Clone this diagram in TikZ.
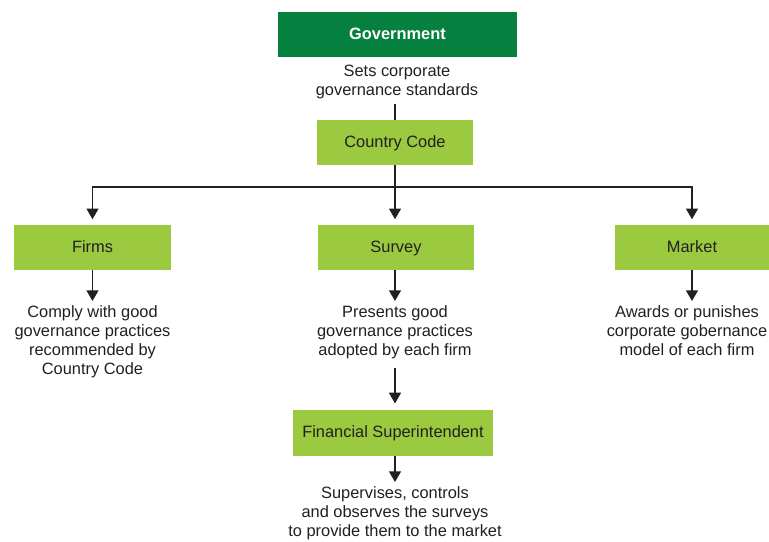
\documentclass[tikz,border=0pt]{standalone}
\usepackage{fontspec}
\setmainfont{Liberation Sans}
\usetikzlibrary{arrows.meta}
\definecolor{govgreen}{HTML}{05803F}
\definecolor{codegreen}{HTML}{9BC93F}
\definecolor{ink}{HTML}{231F20}

\begin{document}
\begin{tikzpicture}[
        x=0.75pt, y=-0.75pt,
        every node/.style={color=ink, font=\fontsize{12.3}{14.2}\selectfont},
        head box/.style={fill=govgreen, text=white, font=\bfseries\fontsize{12.3}{14.2}\selectfont,
            minimum width=179pt, minimum height=34pt, text depth=0.3ex},
        code box/.style={fill=codegreen, minimum height=34pt, text depth=0.3ex},
        note/.style={align=center, anchor=north, inner xsep=0pt, inner ysep=3.5pt},
        plain line/.style={line width=1pt, draw=ink},
        pile/.style={line width=1pt, draw=ink, -{Triangle[width=9pt, length=8pt]}, shorten >=4pt}]

    \useasboundingbox (0,0) rectangle (769,542);

    % top
    \node[head box] (gov) at (397.5,34.5) {Government};
    \node[note] (sets) at (397,60.5) {Sets corporate\\governance standards};
    \node[code box, minimum width=117pt] (code) at (395,142.5) {Country Code};
    \draw[plain line] (code.north |- sets.south) -- (code);

    % branches
    \coordinate (split) at (395,187);
    \node[code box, minimum width=118pt] (firms) at (92.5,247.5) {Firms};
    \node[code box, minimum width=117pt] (survey) at (396,247.5) {Survey};
    \node[code box, minimum width=115pt] (market) at (692,247.5) {Market};
    \draw[plain line] (code) -- (split);
    \draw[pile] (split) -| (firms);
    \draw[pile] (split) -- (split |- survey.north);
    \draw[pile] (split) -| (market);

    % what each one does
    \node[note] (comply) at (92.5,301) {Comply with good\\governance practices\\recommended by\\Country Code};
    \node[note] (presents) at (395,301) {Presents good\\governance practices\\adopted by each firm};
    \node[note] (awards) at (687,301) {Awards or punishes\\corporate gobernance\\model of each firm};
    \draw[pile, shorten >=0pt] (firms) -- (comply);
    \draw[pile, shorten >=0pt] (survey.south -| presents) -- (presents);
    \draw[pile, shorten >=0pt] (market.south) -- (market.south |- awards.north);

    % superintendent
    \node[code box, minimum width=150pt] (super) at (393,433) {Financial Superintendent};
    \node[note] (supervises) at (395,482) {Supervises, controls\\and observes the surveys\\to provide them to the market};
    \draw[pile, shorten <=3pt, shorten >=5pt] (presents) -- (presents |- super.north);
    \draw[pile, shorten >=0pt] (super.south -| supervises) -- (supervises);
\end{tikzpicture}
\end{document}
